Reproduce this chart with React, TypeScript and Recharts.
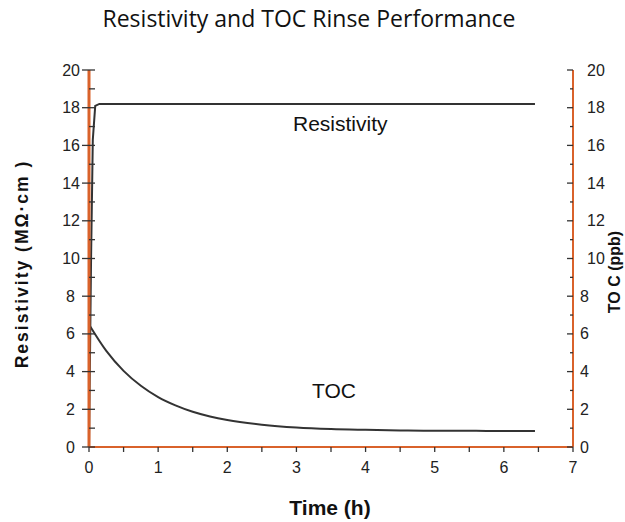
import * as React from 'react';
import { LineChart, Line, XAxis, YAxis, ReferenceLine } from 'recharts';

// Time (h) and values
const resistivityTime = [0, 0.03, 0.055, 0.09, 0.15, 0.5, 1, 2, 3, 4, 5, 6, 6.45];
const resistivityValues = [0, 10, 16.3, 18.1, 18.2, 18.2, 18.2, 18.2, 18.2, 18.2, 18.2, 18.2, 18.2];

const tocTime = [0, 0.25, 0.5, 0.75, 1, 1.25, 1.5, 1.75, 2, 2.5, 3, 3.5, 4, 4.5, 5, 5.5, 6, 6.45];
const tocValues = [6.5, 5.1, 4.04, 3.25, 2.65, 2.21, 1.87, 1.62, 1.43, 1.18, 1.03, 0.95, 0.91, 0.88, 0.86, 0.86, 0.85, 0.85];

const xTicks = [0, 0.5, 1, 1.5, 2, 2.5, 3, 3.5, 4, 4.5, 5, 5.5, 6, 6.5, 7];
const yTicks = [0, 1, 2, 3, 4, 5, 6, 7, 8, 9, 10, 11, 12, 13, 14, 15, 16, 17, 18, 19, 20];

const resistivityData = resistivityTime.map((t, i) => ({ t, v: resistivityValues[i] }));
const tocData = tocTime.map((t, i) => ({ t, v: tocValues[i] }));

const ORANGE = '#d9622b';
const INK = '#333';
const SANS = 'Liberation Sans, Arial, sans-serif';
const NARROW = 'Liberation Sans Narrow, Arial Narrow, Liberation Sans, sans-serif';

const LeftTick = (props: any) => {
  const { x, y, payload } = props;
  const major = payload.value % 2 === 0;
  return (
    <g>
      <line x1={major ? x - 7 : x} x2={x + 6} y1={y} y2={y} stroke={INK} strokeWidth={1.3} />
      {major && (
        <text
          x={x - (payload.value >= 10 ? 9 : 14)}
          y={y}
          textAnchor="end"
          dominantBaseline="central"
          fontSize={16}
          fontFamily={NARROW}
          fill="#222"
        >
          {payload.value}
        </text>
      )}
    </g>
  );
};

const RightTick = (props: any) => {
  const { x, y, payload } = props;
  const major = payload.value % 2 === 0;
  return (
    <g>
      <line x1={x - (major ? 6 : 3)} x2={x} y1={y} y2={y} stroke={INK} strokeWidth={1.3} />
      {major && (
        <text
          x={x + (payload.value >= 10 ? 14 : 7)}
          y={y}
          textAnchor="start"
          dominantBaseline="central"
          fontSize={16}
          fontFamily={NARROW}
          fill="#222"
        >
          {payload.value}
        </text>
      )}
    </g>
  );
};

const BottomTick = (props: any) => {
  const { x, y, payload } = props;
  const major = Number.isInteger(payload.value);
  return (
    <g>
      <line x1={x} x2={x} y1={y} y2={y + 5} stroke={INK} strokeWidth={1.3} />
      {major && (
        <text x={x} y={y + 20} textAnchor="middle" dominantBaseline="central" fontSize={16} fontFamily={NARROW} fill="#222">
          {payload.value}
        </text>
      )}
    </g>
  );
};

const TopTick = (props: any) => {
  const { x, y } = props;
  return <line x1={x} x2={x} y1={y} y2={y + 5} stroke={INK} strokeWidth={1.3} />;
};

export default function App() {
  return (
    <div style={{ position: 'absolute', left: 0, top: 0, width: 625, height: 522, background: '#fff' }}>
      <LineChart width={625} height={522} margin={{ top: 70, right: 12, bottom: 45, left: 39 }}>
        <XAxis
          xAxisId="bottom"
          dataKey="t"
          type="number"
          domain={[0, 7]}
          ticks={xTicks}
          interval={0}
          height={30}
          tickSize={0}
          tickMargin={0}
          tickLine={false}
          tick={<BottomTick />}
          axisLine={{ stroke: ORANGE, strokeWidth: 2 }}
        />
        <XAxis
          xAxisId="top"
          orientation="top"
          dataKey="t"
          type="number"
          domain={[0, 7]}
          ticks={xTicks}
          interval={0}
          height={0}
          tickSize={0}
          tickMargin={0}
          tickLine={false}
          tick={<TopTick />}
          axisLine={{ stroke: ORANGE, strokeWidth: 2 }}
        />
        <YAxis
          yAxisId="left"
          type="number"
          domain={[0, 20]}
          ticks={yTicks}
          interval={0}
          width={50}
          tickSize={0}
          tickMargin={0}
          tickLine={false}
          tick={<LeftTick />}
          axisLine={{ stroke: ORANGE, strokeWidth: 3 }}
        />
        <YAxis
          yAxisId="right"
          orientation="right"
          type="number"
          domain={[0, 20]}
          ticks={yTicks}
          interval={0}
          width={40}
          tickSize={0}
          tickMargin={0}
          tickLine={false}
          tick={<RightTick />}
          axisLine={{ stroke: ORANGE, strokeWidth: 2 }}
        />
        <ReferenceLine xAxisId="bottom" yAxisId="left" x={0} stroke="#222" strokeWidth={1.3} />
        <Line
          xAxisId="bottom"
          yAxisId="left"
          data={resistivityData}
          dataKey="v"
          type="linear"
          stroke={INK}
          strokeWidth={2}
          dot={false}
          isAnimationActive={false}
        />
        <Line
          xAxisId="bottom"
          yAxisId="right"
          data={tocData}
          dataKey="v"
          type="monotone"
          stroke={INK}
          strokeWidth={2}
          dot={false}
          isAnimationActive={false}
        />
      </LineChart>
      <svg width={625} height={522} style={{ position: 'absolute', left: 0, top: 0, pointerEvents: 'none' }}>
        <text x={309} y={27} textAnchor="middle" fontSize={23} fontFamily="Open Sans, sans-serif" fill="#111">
          Resistivity and TOC Rinse Performance
        </text>
        <text x={293} y={131} fontSize={21} fontFamily={SANS} fill="#111">Resistivity</text>
        <text x={312} y={398} fontSize={21} fontFamily={SANS} fill="#111">TOC</text>
        <text
          transform="translate(28,264) rotate(-90)"
          textAnchor="middle"
          fontSize={17.5}
          fontWeight="bold"
          letterSpacing={2}
          fontFamily={SANS}
          fill="#111"
        >
          Resistivity  (MΩ·cm )
        </text>
        <text
          transform="translate(620,272) rotate(-90)"
          textAnchor="middle"
          fontSize={16}
          fontWeight="bold"
          fontFamily={SANS}
          fill="#111"
        >
          TO C (ppb)
        </text>
        <text x={330} y={515} textAnchor="middle" fontSize={21} fontWeight="bold" fontFamily={SANS} fill="#111">
          Time  (h)
        </text>
      </svg>
    </div>
  );
}
